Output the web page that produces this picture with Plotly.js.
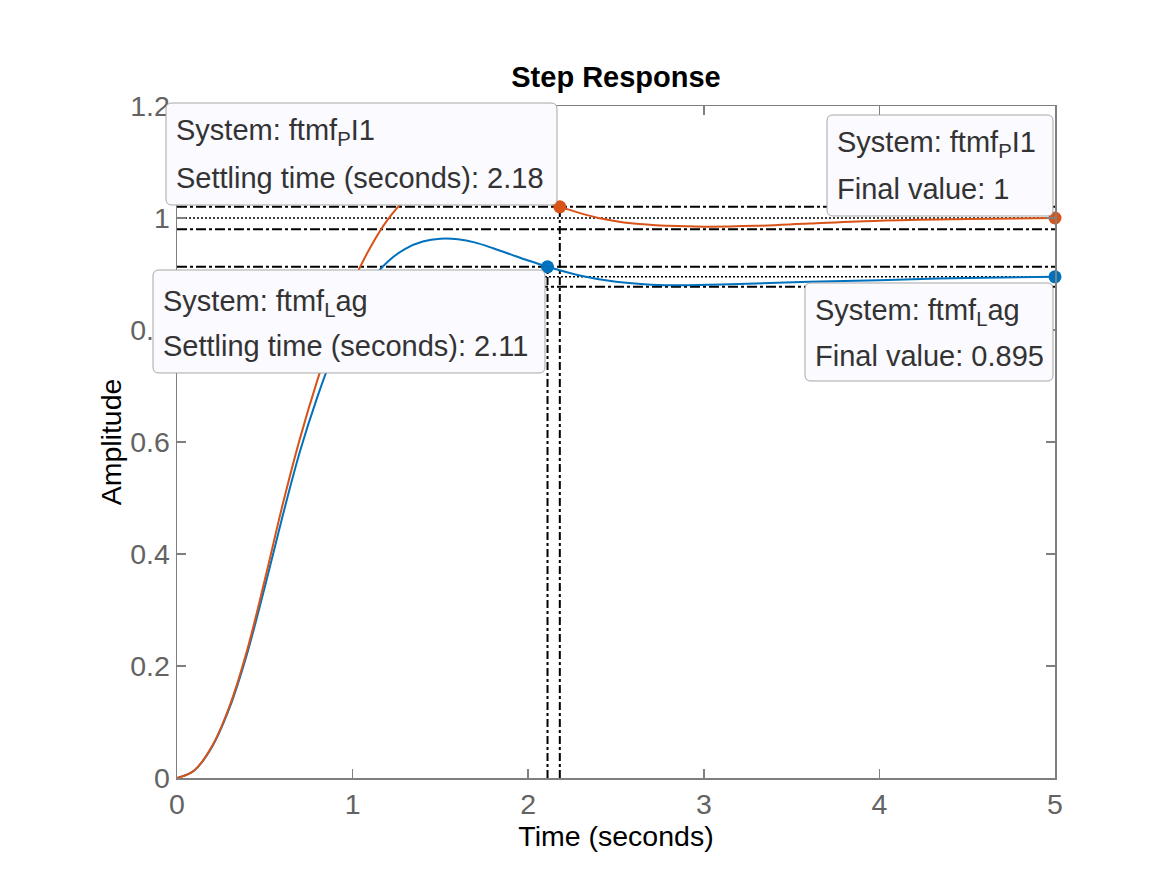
<!DOCTYPE html>
<html>
<head>
<meta charset="utf-8">
<script src="https://cdn.plot.ly/plotly-3.0.1.min.js"></script>
<style>
html,body{margin:0;padding:0;background:#fff;}
#chart{width:1167px;height:875px;}
</style>
</head>
<body>
<div id="chart"></div>
<script>
// ---- data ----
const systemNames = ["ftmf<sub>L</sub>ag", "ftmf<sub>P</sub>I1"];
const lagTime = [0,0.1,0.2,0.3,0.4,0.5,0.6,0.7,0.8,0.9,1.0,1.1,1.2,1.3,1.4,1.5,1.6,1.7,1.8,1.9,2.0,2.11,2.3,2.5,2.7,2.9,3.2,3.6,4.0,4.5,5.0];
const lagAmp  = [0,0.014,0.056,0.126,0.223,0.341,0.466,0.583,0.681,0.766,0.835,0.886,0.922,0.945,0.958,0.963,0.962,0.956,0.946,0.935,0.924,0.913,0.897,0.886,0.881,0.880,0.882,0.886,0.889,0.893,0.895];
const piTime  = [0,0.1,0.2,0.3,0.4,0.5,0.6,0.7,0.8,0.9,1.0,1.1,1.2,1.3,1.4,1.5,1.6,1.7,1.8,1.9,2.0,2.18,2.4,2.6,2.8,3.0,3.3,3.6,4.0,4.5,5.0];
const piAmp   = [0,0.014,0.057,0.129,0.229,0.354,0.486,0.606,0.711,0.804,0.884,0.947,0.997,1.033,1.055,1.068,1.072,1.07,1.063,1.052,1.04,1.02,1.0,0.99,0.986,0.9845,0.986,0.99,0.995,0.998,1.0];
const settlingTimes = [2.11, 2.18];
const finalValues   = [0.895, 1.0];
const settleBand    = 0.02;
const xTicks = [0,1,2,3,4,5];
const yTicks = [0,0.2,0.4,0.6,0.8,1,1.2];

const colors = ["#0072BD", "#D95319"];
const curves = [[lagTime, lagAmp], [piTime, piAmp]];

// ---- geometry helpers (plot area in pixels) ----
const L = 177, R = 1055, T = 106, B = 778;
const px = x => (x - L) / (R - L);
const py = y => (B - y) / (B - T);
const FONT = "Liberation Sans, Arial, Helvetica, sans-serif";

const traces = [];
const refDash = "10px,3px,3px,3px";
// reference lines (settling band, final value, settling-time verticals)
for (let i = 0; i < 2; i++) {
  const fv = finalValues[i], hi = fv * (1 + settleBand), lo = fv * (1 - settleBand);
  traces.push({x:[0,5], y:[hi,hi], mode:"lines", line:{color:"#000", width:2, dash:refDash}, hoverinfo:"skip", showlegend:false});
  traces.push({x:[0,5], y:[lo,lo], mode:"lines", line:{color:"#000", width:2, dash:refDash}, hoverinfo:"skip", showlegend:false});
  traces.push({x:[0,5], y:[fv,fv], mode:"lines", line:{color:"#000", width:1.6, dash:"2px,2px"}, hoverinfo:"skip", showlegend:false});
  traces.push({x:[settlingTimes[i], settlingTimes[i]], y:[0, hi], mode:"lines", line:{color:"#000", width:2, dash:"8px,3px,3px,3px"}, hoverinfo:"skip", showlegend:false});
}
// step response curves
for (let i = 0; i < 2; i++) {
  traces.push({x:curves[i][0], y:curves[i][1], mode:"lines", name:systemNames[i],
    line:{color:colors[i], width:2, shape:"spline", smoothing:1}, showlegend:false});
}
// datatip markers
for (let i = 0; i < 2; i++) {
  const fv = finalValues[i];
  traces.push({x:[settlingTimes[i], 5], y:[fv*(1+settleBand), fv], mode:"markers",
    marker:{color:colors[i], size:13}, cliponaxis:false, showlegend:false, hoverinfo:"skip"});
}

// ---- datatip boxes ----
const tipFont = {family:FONT, size:29, color:"#333333"};
function roundRect(x0, y0, x1, y1, r) {
  const P = (x, y) => px(x).toFixed(5) + "," + py(y).toFixed(5);
  return "M" + P(x0 + r, y0) + " L" + P(x1 - r, y0) + " Q" + P(x1, y0) + " " + P(x1, y0 + r) +
         " L" + P(x1, y1 - r) + " Q" + P(x1, y1) + " " + P(x1 - r, y1) +
         " L" + P(x0 + r, y1) + " Q" + P(x0, y1) + " " + P(x0, y1 - r) +
         " L" + P(x0, y0 + r) + " Q" + P(x0, y0) + " " + P(x0 + r, y0) + " Z";
}
const tips = [
  {box:[166,103,557,205], tx:174, l1:132, l2:178, lines:["System: " + systemNames[1], "Settling time (seconds): " + settlingTimes[1]]},
  {box:[827,115,1053,216], tx:835, l1:144, l2:189, lines:["System: " + systemNames[1], "Final value: " + finalValues[1]]},
  {box:[153,270,545,373], tx:161, l1:303, l2:346, lines:["System: " + systemNames[0], "Settling time (seconds): " + settlingTimes[0]]},
  {box:[805,283,1053,381], tx:813, l1:312, l2:356, lines:["System: " + systemNames[0], "Final value: " + finalValues[0]]}
];
const shapes = [], annotations = [];
tips.forEach(t => {
  shapes.push({type:"path", xref:"paper", yref:"paper", layer:"above",
    path:roundRect(t.box[0], t.box[1], t.box[2], t.box[3], 6),
    fillcolor:"rgba(250,250,255,1)", line:{color:"#a6a6a6", width:1}});
  annotations.push({xref:"paper", yref:"paper", x:px(t.tx), y:py(t.l1), xanchor:"left", yanchor:"middle",
    text:t.lines[0], showarrow:false, font:tipFont});
  annotations.push({xref:"paper", yref:"paper", x:px(t.tx), y:py(t.l2), xanchor:"left", yanchor:"middle",
    text:t.lines[1], showarrow:false, font:tipFont});
});

const axisCommon = {
  showline:true, mirror:"ticks", linecolor:"#7f7f7f", linewidth:1.5,
  ticks:"inside", ticklen:9, tickwidth:1.5, tickcolor:"#7f7f7f",
  showgrid:false, zeroline:false, automargin:false,
  tickfont:{family:FONT, size:28.5, color:"#636363"}
};
const layout = {
  width:1167, height:875,
  paper_bgcolor:"#fff", plot_bgcolor:"#fff",
  margin:{l:L, r:1167-R, t:T, b:875-B},
  title:{text:"<b>Step Response</b>", x:0.5, xref:"paper", y:1-77/875, yref:"container", yanchor:"middle",
    font:{family:FONT, size:29, color:"#000"}},
  xaxis:Object.assign({}, axisCommon, {range:[0,5], tickvals:xTicks, ticktext:xTicks.map(String),
    title:{text:"Time (seconds)", standoff:0, font:{family:FONT, size:28.5, color:"#000"}}}),
  yaxis:Object.assign({}, axisCommon, {range:[0,1.2], tickvals:yTicks, ticktext:yTicks.map(String),
    title:{text:"Amplitude", standoff:0, font:{family:FONT, size:28.5, color:"#000"}}}),
  shapes:shapes, annotations:annotations, showlegend:false
};
Plotly.newPlot("chart", traces, layout, {displayModeBar:false, staticPlot:true});
</script>
</body>
</html>
